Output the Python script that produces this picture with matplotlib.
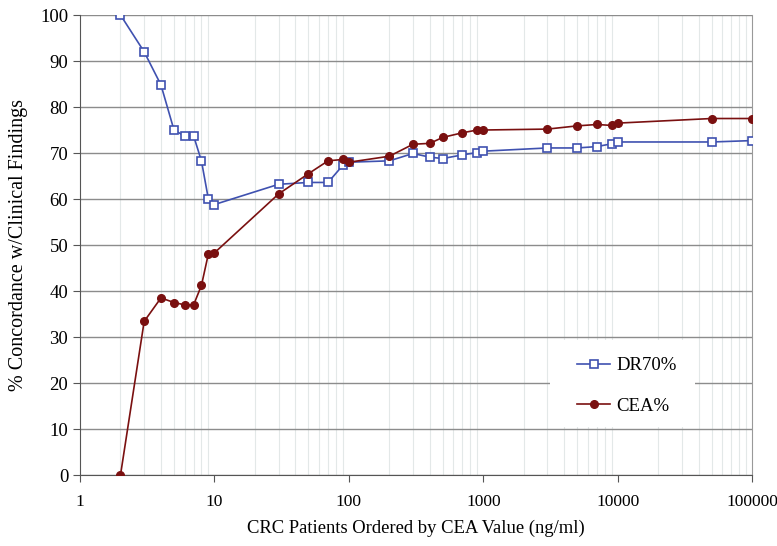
import numpy as np
import matplotlib.pyplot as plt
from matplotlib.patches import Rectangle
from matplotlib.ticker import FixedLocator, NullFormatter

plt.rcParams['font.family'] = ['Liberation Serif', 'DejaVu Serif']

# CEA value (ng/ml) for each patient step
cea_x = [2, 3, 4, 5, 6, 7, 8, 9, 10, 30, 50, 70, 90, 100, 200, 300, 400, 500,
         700, 900, 1000, 3000, 5000, 7000, 9000, 10000, 50000, 100000]

dr70 = [100, 92.0, 84.8, 75.0, 73.7, 73.7, 68.3, 60.1, 58.8, 63.2, 63.6, 63.6,
        67.3, 68.0, 68.3, 69.9, 69.1, 68.8, 69.6, 70.1, 70.4, 71.1, 71.1, 71.4,
        72.0, 72.4, 72.4, 72.7]

cea = [0, 33.4, 38.5, 37.5, 37.0, 37.0, 41.2, 48.0, 48.3, 61.1, 65.5, 68.3,
       68.6, 68.0, 69.3, 71.9, 72.1, 73.4, 74.4, 75.0, 75.0, 75.2, 75.9, 76.2,
       76.0, 76.5, 77.5, 77.5]

fig = plt.figure(figsize=(7.77, 5.46), dpi=100)
ax = fig.add_axes([0.103, 0.13, 0.865, 0.8425])

ax.plot(cea_x, dr70, '-s', color='#3f51b0', lw=1.2, ms=5.5,
        markerfacecolor='white', markeredgewidth=1.2, label='DR70%', zorder=3)
ax.plot(cea_x, cea, '-o', color='#7a1010', lw=1.2, ms=5.5,
        label='CEA%', zorder=3)

ax.set_xscale('log')
ax.set_xlim(1, 100000)
ax.set_ylim(0, 100)
ax.set_yticks(np.arange(0, 101, 10))
ax.set_xticks([1, 10, 100, 1000, 10000, 100000])
ax.set_xticklabels(['1', '10', '100', '1000', '10000', '100000'])
ax.xaxis.set_minor_locator(FixedLocator(
    [m * 10 ** d for d in range(0, 5) for m in range(2, 11)]))
ax.xaxis.set_minor_formatter(NullFormatter())

ax.grid(axis='y', which='major', color='#8c8c8c', lw=1.0)
ax.grid(axis='x', which='minor', color='#e3e8e8', lw=0.8)
ax.set_axisbelow(True)
ax.tick_params(axis='x', which='minor', length=0)
ax.tick_params(axis='both', which='major', direction='out',
               length=5, color='#555555')
ax.tick_params(axis='y', which='major', labelsize=13.5)
ax.tick_params(axis='x', which='major', labelsize=12.5, pad=9)

ax.spines['top'].set_visible(False)
ax.spines['right'].set_color('#999999')
ax.spines['left'].set_color('#555555')
ax.spines['bottom'].set_color('#555555')

ax.set_xlabel('CRC Patients Ordered by CEA Value (ng/ml)', fontsize=13.4,
              labelpad=7)
ax.set_ylabel('% Concordance w/Clinical Findings', fontsize=14.5, labelpad=9)

# white patch behind the legend, hiding the gridlines there
ax.add_patch(Rectangle((0.699, 0.104), 0.216, 0.189, transform=ax.transAxes,
                       facecolor='white', edgecolor='none', zorder=1.5))
ax.legend(loc='upper left', bbox_to_anchor=(0.725, 0.277), frameon=False,
          fontsize=13.5, borderpad=0, labelspacing=1.25, handlelength=1.8,
          handletextpad=0.3)

fig.savefig('out.png', dpi=100)
